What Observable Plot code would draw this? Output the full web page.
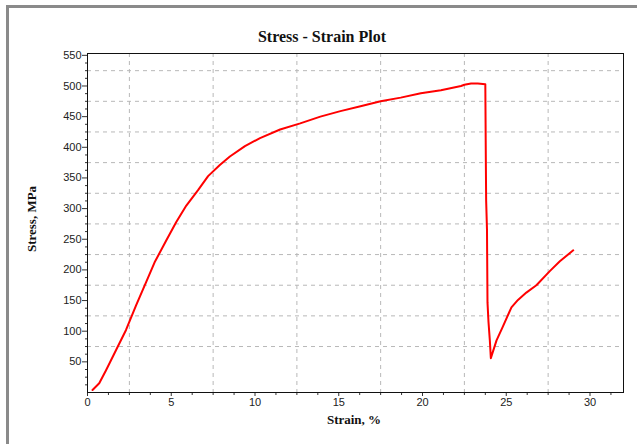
<!DOCTYPE html>
<html>
<head>
<meta charset="utf-8">
<script src="https://cdn.jsdelivr.net/npm/d3@7"></script>
<script src="https://cdn.jsdelivr.net/npm/@observablehq/plot@0.6"></script>
<style>
  html, body { margin: 0; padding: 0; background: #fff; }
  #wrap { position: relative; width: 637px; height: 444px; overflow: hidden; }
  #border { position: absolute; left: 6px; top: 5px; width: 700px; height: 500px;
            border-left: 3px solid #8a8a8a; border-top: 3px solid #8a8a8a; }
  #chart { position: absolute; left: 0; top: 0; }
</style>
</head>
<body>
<div id="wrap"><div id="border"></div><div id="chart"></div></div>
<script>
const strain = [0.3, 0.7, 1.1, 1.7, 2.3, 2.9, 3.5, 4.0, 4.7, 5.3, 5.9, 6.6, 7.2, 7.9, 8.5, 9.4, 10.3, 11.5, 12.7, 13.9, 15.1, 16.3, 17.5, 18.7, 19.9, 21.1, 22.3, 22.5, 22.9, 23.3, 23.75, 23.78, 23.8, 23.85, 23.88, 23.94, 24.02, 24.08, 24.42, 24.79, 25.31, 25.7, 26.2, 26.8, 27.6, 28.2, 29.0];
const stress = [4, 15, 36, 69, 102, 142, 180, 212, 248, 278, 305, 330, 353, 371, 385, 402, 415, 429, 439, 450, 459, 467, 475, 481, 488, 493, 500, 502, 504, 504, 503, 384, 313, 266, 147, 115, 85, 56, 85, 107, 139, 151, 163, 175, 198, 214, 232];

const xMajor = [0, 5, 10, 15, 20, 25, 30];
const xMinor = [1.25, 2.5, 3.75, 6.25, 7.5, 8.75, 11.25, 12.5, 13.75, 16.25, 17.5, 18.75, 21.25, 22.5, 23.75, 26.25, 27.5, 28.75, 31.25];
const xGrid = [2.5, 7.5, 12.5, 17.5, 22.5, 27.5];
const yMajor = [50, 100, 150, 200, 250, 300, 350, 400, 450, 500, 550];
const yMinor = [12.5, 25, 37.5, 62.5, 75, 87.5, 112.5, 125, 137.5, 162.5, 175, 187.5, 212.5, 225, 237.5, 262.5, 275, 287.5, 312.5, 325, 337.5, 362.5, 375, 387.5, 412.5, 425, 437.5, 462.5, 475, 487.5, 512.5, 525, 537.5];
const yGrid = [75, 125, 175, 225, 275, 325, 375, 425, 475, 525];

const titleText = "Stress - Strain Plot";
const xLabel = "Strain, %";
const yLabel = "Stress, MPa";

const data = strain.map((s, i) => ({strain: s, stress: stress[i]}));

const tickFont = {fontFamily: "Liberation Sans, Arial, sans-serif", fontSize: 11, fill: "#222"};

const chart = Plot.plot({
  width: 637,
  height: 444,
  marginLeft: 87,
  marginRight: 14,
  marginTop: 53,
  marginBottom: 52,
  style: {background: "transparent", fontFamily: "Liberation Sans, Arial, sans-serif", fontSize: "11px", color: "#222"},
  x: {domain: [0, 32]},
  y: {domain: [0, 553]},
  marks: [
    Plot.gridX(xGrid, {stroke: "#b8b8b8", strokeOpacity: 1, strokeDasharray: "4,4", strokeWidth: 1}),
    Plot.gridY(yGrid, {stroke: "#b8b8b8", strokeOpacity: 1, strokeDasharray: "4,4", strokeWidth: 1}),
    Plot.axisX(xMajor, {tickSize: 4, tickPadding: 2, label: null, stroke: "#333", ...tickFont}),
    Plot.axisX(xMinor, {tickSize: 3, tickFormat: () => "", label: null, stroke: "#333"}),
    Plot.axisY(yMajor, {tickSize: 5, tickPadding: 1, label: null, stroke: "#333", ...tickFont}),
    Plot.axisY(yMinor, {tickSize: 2, tickFormat: () => "", label: null, stroke: "#333"}),
    Plot.frame({stroke: "#111", strokeWidth: 1}),
    Plot.line(data, {x: "strain", y: "stress", stroke: "#ff0000", strokeWidth: 2})
  ]
});

const svg = d3.select(chart);
svg.append("text")
  .attr("x", 322).attr("y", 42)
  .attr("text-anchor", "middle")
  .attr("font-family", "Liberation Serif, Times New Roman, serif")
  .attr("font-weight", "bold").attr("font-size", 16).attr("fill", "#111")
  .text(titleText);
svg.append("text")
  .attr("x", 354).attr("y", 424)
  .attr("text-anchor", "middle")
  .attr("font-family", "Liberation Serif, Times New Roman, serif")
  .attr("font-weight", "bold").attr("font-size", 13).attr("fill", "#111")
  .text(xLabel);
svg.append("text")
  .attr("transform", "translate(36,219) rotate(-90)")
  .attr("text-anchor", "middle")
  .attr("font-family", "Liberation Serif, Times New Roman, serif")
  .attr("font-weight", "bold").attr("font-size", 13).attr("fill", "#111")
  .text(yLabel);

document.getElementById("chart").appendChild(chart);
</script>
</body>
</html>
